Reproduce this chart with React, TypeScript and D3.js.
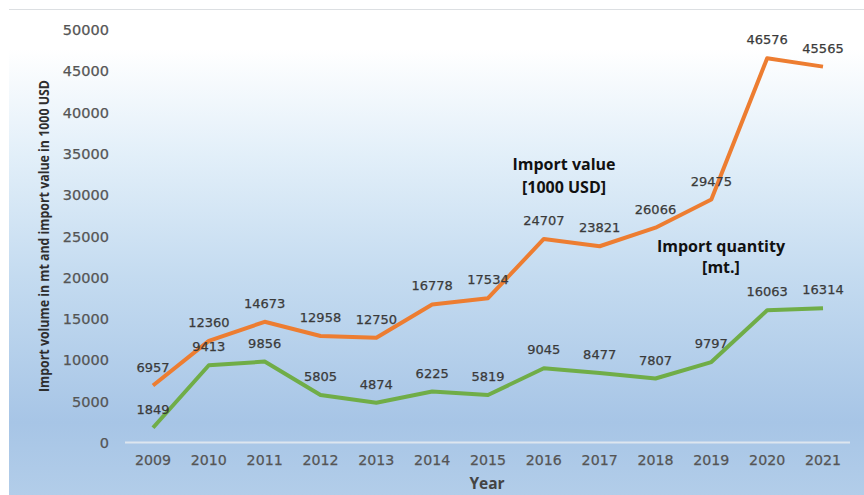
import React from "react";
import * as d3 from "d3";

const years = ["2009","2010","2011","2012","2013","2014","2015","2016","2017","2018","2019","2020","2021"];
const importValue = [6957,12360,14673,12958,12750,16778,17534,24707,23821,26066,29475,46576,45565];
const importQuantity = [1849,9413,9856,5805,4874,6225,5819,9045,8477,7807,9797,16063,16314];
const yTicks = [0,5000,10000,15000,20000,25000,30000,35000,40000,45000,50000];

const W = 864, H = 495;

export default function App() {
  const x = d3.scalePoint<string>().domain(years).range([153, 823]);
  const y = d3.scaleLinear().domain([0, 50000]).range([443, 30]);
  const line = d3.line<number>().x((_, i) => x(years[i]) as number).y((d) => y(d));
  const labelFont = "DejaVu Sans, sans-serif";
  return (
    <svg width={W} height={H} style={{ position: "absolute", left: 0, top: 0 }}>
      <defs>
        <linearGradient id="bg" x1="0" y1="0" x2="0" y2="1">
          <stop offset="0" stopColor="#ffffff" />
          <stop offset="0.08" stopColor="#ffffff" />
          <stop offset="0.3" stopColor="#e2eff9" />
          <stop offset="0.55" stopColor="#c4dbf0" />
          <stop offset="0.85" stopColor="#a7c5e6" />
          <stop offset="1" stopColor="#b2cde9" />
        </linearGradient>
      </defs>
      <rect x={0} y={0} width={W} height={H} fill="#ffffff" />
      <rect x={9} y={10} width={W - 9} height={H - 10} fill="url(#bg)" />
      <line x1={9} x2={W} y1={9.5} y2={9.5} stroke="#dcdfe2" strokeWidth={1} />
      {/* y-axis title */}
      <text
        transform={`translate(49,236) rotate(-90)`}
        textAnchor="middle"
        fontFamily="Open Sans, sans-serif"
        fontWeight={700}
        fontSize={13.5}
        fill="#2e2e2e"
        textLength={312}
        lengthAdjust="spacingAndGlyphs"
      >
        Import volume in mt and import value in 1000 USD
      </text>
      {/* y ticks */}
      {yTicks.map((t) => (
        <text key={t} x={109} y={y(t) + 5} textAnchor="end" fontFamily={labelFont} fontSize={14.5} fill="#555" stroke="#555" strokeWidth={0.25}>
          {t}
        </text>
      ))}
      {/* axis line */}
      <line x1={125} x2={850} y1={y(0) - 0.5} y2={y(0) - 0.5} stroke="#dde6ef" strokeWidth={2} />
      {/* x ticks */}
      {years.map((yr) => (
        <text key={yr} x={x(yr)} y={465} textAnchor="middle" fontFamily={labelFont} fontSize={14.2} fill="#555" stroke="#555" strokeWidth={0.25}>
          {yr}
        </text>
      ))}
      <text x={487} y={489} textAnchor="middle" fontFamily="Open Sans, sans-serif" fontWeight={700} fontSize={15.5} fill="#444">
        Year
      </text>
      {/* lines */}
      <path d={line(importValue) || ""} fill="none" stroke="#ED7D31" strokeWidth={4} strokeLinejoin="round" />
      <path d={line(importQuantity) || ""} fill="none" stroke="#70AD47" strokeWidth={4} strokeLinejoin="round" />
      {/* data labels */}
      {importValue.map((v, i) => (
        <text key={"v" + i} x={x(years[i])} y={y(v) - 14} textAnchor="middle" fontFamily={labelFont} fontSize={13} fill="#3a3a3a" stroke="#3a3a3a" strokeWidth={0.25}>
          {v}
        </text>
      ))}
      {importQuantity.map((v, i) => (
        <text key={"q" + i} x={x(years[i])} y={y(v) - 14} textAnchor="middle" fontFamily={labelFont} fontSize={13} fill="#3a3a3a" stroke="#3a3a3a" strokeWidth={0.25}>
          {v}
        </text>
      ))}
      {/* annotations */}
      <g fontFamily="Open Sans, sans-serif" fontWeight={700} fontSize={16} fill="#111" textAnchor="middle">
        <text x={564} y={170}>Import value</text>
        <text x={564} y={193}>[1000 USD]</text>
        <text x={721} y={252}>Import quantity</text>
        <text x={721} y={273}>[mt.]</text>
      </g>
    </svg>
  );
}
